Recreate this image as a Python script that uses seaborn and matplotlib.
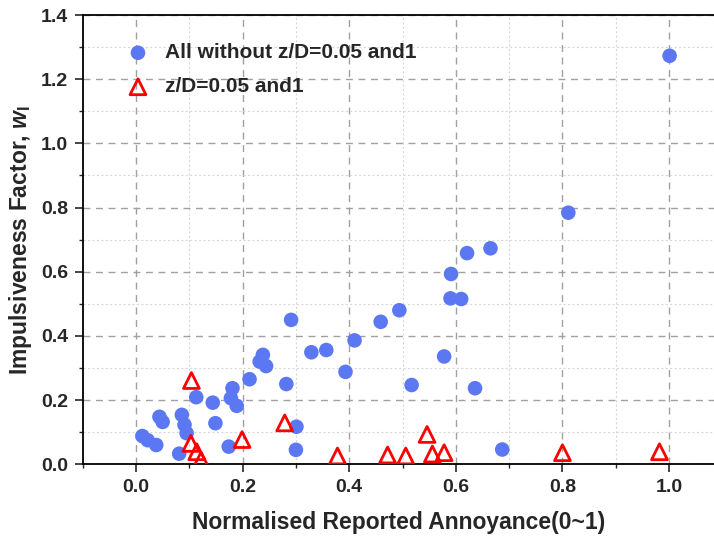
import matplotlib
matplotlib.use("Agg")
import matplotlib.pyplot as plt
import seaborn as sns
import pandas as pd
from matplotlib.ticker import MultipleLocator

# ---- data ----
all_x = [0.012, 0.022, 0.038, 0.044, 0.050, 0.081, 0.086, 0.091, 0.095, 0.113,
         0.144, 0.149, 0.174, 0.181, 0.178, 0.189, 0.213, 0.232, 0.244, 0.238,
         0.282, 0.300, 0.301, 0.291, 0.329, 0.357, 0.410, 0.393, 0.459, 0.494,
         0.517, 0.578, 0.590, 0.610, 0.591, 0.621, 0.665, 0.636, 0.687, 0.811, 1.001]
all_y = [0.088, 0.075, 0.060, 0.148, 0.132, 0.033, 0.154, 0.123, 0.097, 0.209,
         0.192, 0.128, 0.055, 0.237, 0.206, 0.182, 0.265, 0.320, 0.306, 0.341,
         0.250, 0.045, 0.117, 0.450, 0.349, 0.356, 0.386, 0.288, 0.444, 0.480,
         0.247, 0.336, 0.517, 0.515, 0.593, 0.658, 0.673, 0.237, 0.046, 0.784, 1.273]
zd_x = [0.104, 0.103, 0.114, 0.122, 0.199, 0.279, 0.378, 0.472, 0.506, 0.546,
        0.556, 0.578, 0.800, 0.982]
zd_y = [0.261, 0.065, 0.039, 0.013, 0.077, 0.129, 0.026, 0.029, 0.026, 0.093,
        0.032, 0.036, 0.036, 0.039]
label_all = "All without z/D=0.05 and1"
label_zd = "z/D=0.05 and1"
x_ticks = [0.0, 0.2, 0.4, 0.6, 0.8, 1.0]
y_ticks = [0.0, 0.2, 0.4, 0.6, 0.8, 1.0, 1.2, 1.4]

df_all = pd.DataFrame({"x": all_x, "y": all_y})
df_zd = pd.DataFrame({"x": zd_x, "y": zd_y})

sns.set_style("white")
plt.rcParams["font.family"] = ["Liberation Sans", "DejaVu Sans"]
plt.rcParams["font.weight"] = "bold"
plt.rcParams["mathtext.fontset"] = "custom"
plt.rcParams["mathtext.rm"] = "Liberation Sans:bold"
plt.rcParams["mathtext.it"] = "Liberation Sans:italic:bold"
plt.rcParams["mathtext.bf"] = "Liberation Sans:bold"

fig = plt.figure(figsize=(7.14, 5.42), dpi=100)
ax = fig.add_axes([0.1158, 0.1434, 0.884, 0.8289])

sns.scatterplot(data=df_all, x="x", y="y", ax=ax, marker="o", s=110,
                color="#5b78f2", edgecolor="none", linewidth=0, label=label_all,
                zorder=3)
sns.scatterplot(data=df_zd, x="x", y="y", ax=ax, marker="^", s=130,
                facecolor="none", edgecolor="#ff0000", linewidth=2.0,
                label=label_zd, zorder=4)

ax.set_xlim(-0.1, 1.084)
ax.set_ylim(0, 1.4)
ax.set_xticks(x_ticks)
ax.set_yticks(y_ticks)
ax.set_xticklabels([f"{v:.1f}" for v in x_ticks])
ax.set_yticklabels([f"{v:.1f}" for v in y_ticks])
ax.xaxis.set_minor_locator(MultipleLocator(0.1))
ax.yaxis.set_minor_locator(MultipleLocator(0.1))

ax.grid(True, which="major", color="#a0a0a0", linestyle=(0, (5, 4)), linewidth=1.0, zorder=0)
ax.grid(True, which="minor", color="#d8d8d8", linestyle=(0, (2, 2)), linewidth=0.8, zorder=0)
ax.set_axisbelow(True)

ax.tick_params(axis="both", which="major", direction="out", length=5.5, width=1.2,
               labelsize=14, pad=5, bottom=True, left=True)
ax.tick_params(axis="both", which="minor", direction="out", length=3, width=1.0,
               bottom=True, left=True)
for lbl in ax.get_xticklabels() + ax.get_yticklabels():
    lbl.set_fontweight("bold")

for side in ["left", "bottom", "top"]:
    ax.spines[side].set_visible(True)
    ax.spines[side].set_color("black")
    ax.spines[side].set_linewidth(1.3)
ax.spines["right"].set_visible(False)

ax.set_xlabel("Normalised Reported Annoyance(0~1)", fontsize=16.5, fontweight="bold", labelpad=11)
ax.set_ylabel(r"Impulsiveness Factor, $w_\mathrm{I}$", fontsize=16.5, fontweight="bold", labelpad=5)

leg = ax.legend(loc="upper left", frameon=False, fontsize=15, bbox_to_anchor=(0.048, 0.965),
                handletextpad=0.7, handlelength=1.2, labelspacing=0.72, borderaxespad=0.2)
for t in leg.get_texts():
    t.set_fontweight("bold")

fig.savefig("out.png", dpi=100)
